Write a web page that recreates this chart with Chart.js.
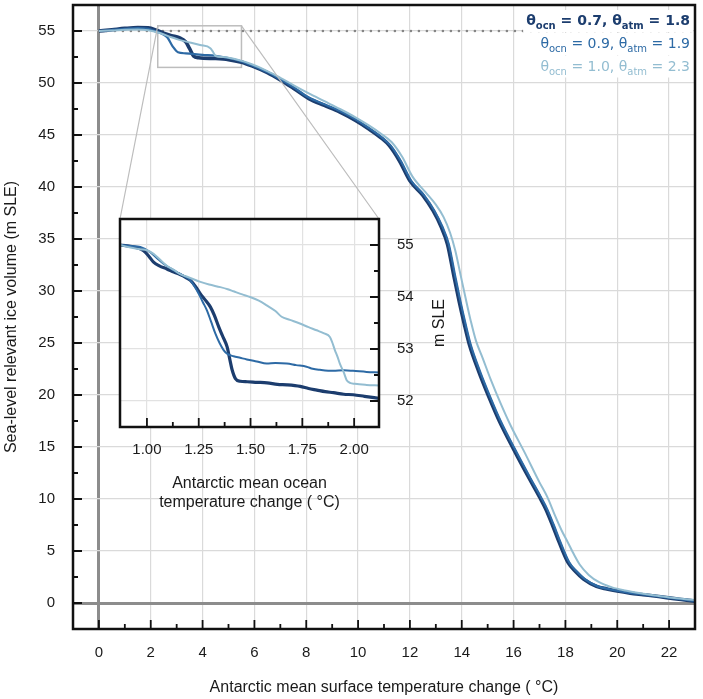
<!DOCTYPE html>
<html>
<head>
<meta charset="utf-8">
<script src="https://cdn.jsdelivr.net/npm/chart.js@4.4.1/dist/chart.umd.min.js"></script>
<style>
  body { margin: 0; background: #fff; }
  #wrap { position: relative; width: 703px; height: 699px; }
  #wrap canvas { position: absolute; left: 0; top: 0; }
</style>
</head>
<body>
<div id="wrap">
  <canvas id="mainChart" width="703" height="699"></canvas>
  <canvas id="insetChart" width="703" height="699"></canvas>
</div>
<script>
// parameter sets, one per run
const thetaOcn = ['0.7', '0.9', '1.0'];
const thetaAtm = ['1.8', '1.9', '2.3'];
const runColors = ['#1c3d6e', '#2d6aa5', '#93bdd1'];

// main panel: surface temperature change (°C) vs ice volume (m SLE)
const darkX = [0, 0.5, 1.0, 1.5, 1.9, 2.2, 2.5, 2.8, 3.1, 3.35, 3.5, 3.65, 3.85, 4.5, 5.0, 5.5, 5.9, 6.5, 7.0, 7.5, 8.1, 8.7, 9.3, 9.9, 10.4, 10.9, 11.2, 11.6, 12.0, 12.5, 12.9, 13.2, 13.45, 13.7, 13.9, 14.1, 14.3, 14.65, 15.05, 15.45, 16.0, 16.6, 17.0, 17.25, 17.5, 17.75, 18.1, 18.4, 18.7, 19.2, 19.6, 20.0, 20.5, 21.0, 21.6, 22.2, 22.6, 23.0];
const darkY = [55.0, 55.12, 55.25, 55.33, 55.3, 55.1, 54.8, 54.55, 54.35, 53.95, 53.3, 52.6, 52.43, 52.35, 52.25, 52.0, 51.65, 51.0, 50.3, 49.5, 48.5, 47.85, 47.2, 46.4, 45.6, 44.7, 44.0, 42.5, 40.6, 39.2, 37.7, 36.2, 34.5, 31.4, 29.0, 26.8, 24.8, 22.3, 19.8, 17.5, 14.8, 12.0, 10.2, 9.0, 7.5, 5.9, 3.9, 3.0, 2.3, 1.6, 1.35, 1.15, 0.95, 0.8, 0.62, 0.42, 0.3, 0.18];

const midX = [0, 0.5, 1.0, 1.5, 1.9, 2.2, 2.45, 2.65, 2.85, 3.05, 3.35, 4.0, 4.5, 5.0, 5.5, 5.9, 6.5, 7.0, 7.5, 8.1, 8.7, 9.3, 9.9, 10.4, 10.9, 11.25, 11.65, 12.05, 12.55, 12.95, 13.25, 13.5, 13.75, 13.95, 14.15, 14.35, 14.7, 15.1, 15.5, 16.05, 16.65, 17.05, 17.3, 17.55, 17.8, 18.15, 18.45, 18.75, 19.25, 19.65, 20.05, 20.5, 21.0, 21.6, 22.2, 22.6, 23.0];
const midY = [55.0, 55.1, 55.2, 55.28, 55.2, 54.95, 54.7, 54.35, 53.5, 52.95, 52.85, 52.7, 52.62, 52.4, 52.08, 51.7, 51.05, 50.35, 49.6, 48.6, 47.95, 47.3, 46.5, 45.7, 44.8, 44.0, 42.5, 40.6, 39.2, 37.7, 36.2, 34.5, 31.4, 29.0, 26.8, 24.8, 22.3, 19.8, 17.5, 14.8, 12.0, 10.2, 9.0, 7.5, 5.9, 3.9, 3.0, 2.3, 1.6, 1.35, 1.15, 0.97, 0.82, 0.64, 0.44, 0.32, 0.2];

const lightX = [0, 0.5, 1.0, 1.5, 1.9, 2.35, 2.8, 3.1, 3.5, 3.9, 4.3, 4.4, 4.5, 4.8, 5.4, 5.9, 6.5, 7.0, 7.5, 8.1, 8.7, 9.3, 9.9, 10.4, 10.9, 11.3, 11.7, 12.1, 12.6, 13.0, 13.3, 13.55, 13.75, 13.95, 14.15, 14.35, 14.55, 14.8, 15.1, 15.5, 15.9, 16.4, 17.0, 17.3, 17.6, 17.85, 18.1, 18.3, 18.55, 18.9, 19.3, 19.8, 20.3, 21.0, 21.6, 22.2, 23.0];
const lightY = [55.0, 55.05, 55.12, 55.15, 55.08, 54.8, 54.4, 54.15, 53.9, 53.65, 53.35, 53.0, 52.6, 52.5, 52.2, 51.8, 51.15, 50.5, 49.8, 49.0, 48.25, 47.5, 46.7, 45.95, 45.1, 44.3, 42.9, 41.0, 39.5, 38.3, 37.1, 35.6, 33.9, 31.6, 29.3, 27.1, 25.2, 23.6, 21.6, 19.2, 17.0, 14.6, 11.6, 10.2, 8.4, 7.0, 5.8, 4.8, 3.7, 2.7, 2.0, 1.5, 1.2, 0.9, 0.68, 0.47, 0.28];

// present-day reference volume
const refX = [0, 23];
const refY = [55, 55];

// inset: ocean temperature change (°C)
const inDarkX = [0.87, 0.95, 0.984, 1.01, 1.032, 1.06, 1.096, 1.13, 1.16, 1.19, 1.21, 1.235, 1.258, 1.28, 1.306, 1.325, 1.347, 1.365, 1.387, 1.40, 1.411, 1.427, 1.45, 1.484, 1.53, 1.58, 1.63, 1.676, 1.74, 1.78, 1.82, 1.86, 1.90, 1.95, 1.996, 2.05, 2.12];
const inDarkY = [55.0, 54.95, 54.89, 54.78, 54.67, 54.6, 54.54, 54.48, 54.43, 54.37, 54.32, 54.2, 54.06, 53.95, 53.81, 53.65, 53.42, 53.25, 53.04, 52.8, 52.6, 52.43, 52.38, 52.37, 52.36, 52.35, 52.32, 52.31, 52.28, 52.24, 52.21, 52.18, 52.16, 52.13, 52.12, 52.09, 52.05];

const inMidX = [0.87, 0.92, 0.968, 1.016, 1.05, 1.08, 1.11, 1.144, 1.18, 1.21, 1.23, 1.25, 1.27, 1.29, 1.31, 1.33, 1.35, 1.37, 1.39, 1.418, 1.45, 1.482, 1.53, 1.578, 1.62, 1.675, 1.72, 1.77, 1.80, 1.835, 1.899, 1.95, 1.995, 2.06, 2.12];
const inMidY = [55.0, 54.98, 54.96, 54.86, 54.74, 54.64, 54.56, 54.48, 54.4, 54.32, 54.2, 54.06, 53.9, 53.74, 53.52, 53.3, 53.12, 52.98, 52.9, 52.86, 52.83, 52.8, 52.76, 52.72, 52.73, 52.72, 52.69, 52.66, 52.62, 52.6, 52.58, 52.59, 52.58, 52.56, 52.55];

const inLightX = [0.87, 0.92, 0.968, 1.0, 1.032, 1.06, 1.096, 1.13, 1.16, 1.2, 1.258, 1.3, 1.354, 1.39, 1.418, 1.46, 1.498, 1.54, 1.578, 1.62, 1.65, 1.69, 1.738, 1.78, 1.819, 1.855, 1.883, 1.895, 1.907, 1.92, 1.931, 1.95, 1.964, 1.98, 2.004, 2.06, 2.12];
const inLightY = [55.0, 54.95, 54.92, 54.9, 54.83, 54.73, 54.6, 54.52, 54.44, 54.38, 54.29, 54.24, 54.19, 54.15, 54.11, 54.05, 54.0, 53.93, 53.84, 53.73, 53.62, 53.56, 53.49, 53.42, 53.36, 53.3, 53.23, 53.12, 52.98, 52.85, 52.72, 52.55, 52.4, 52.35, 52.33, 52.31, 52.3];

// ticks
const mainXTicks = [0, 2, 4, 6, 8, 10, 12, 14, 16, 18, 20, 22];
const mainXLabels = ['0', '2', '4', '6', '8', '10', '12', '14', '16', '18', '20', '22'];
const mainYTicks = [0, 5, 10, 15, 20, 25, 30, 35, 40, 45, 50, 55];
const mainYLabels = ['0', '5', '10', '15', '20', '25', '30', '35', '40', '45', '50', '55'];
const insetXTicks = [1.0, 1.25, 1.5, 1.75, 2.0];
const insetXLabels = ['1.00', '1.25', '1.50', '1.75', '2.00'];
const insetYTicks = [52, 53, 54, 55];
const insetYLabels = ['52', '53', '54', '55'];

// zoom window (surface temp, m SLE) and inset range (ocean temp)
const zoomX = [2.27, 5.5];
const zoomY = [51.5, 55.5];
const insetRangeX = [0.87, 2.12];

const sansFont = 'Liberation Sans, Arial, sans-serif';
const tickFont = { family: sansFont, size: 15 };
const titleFont = { family: sansFont, size: 16 };
const ink = '#1a1a1a';

function pts(xs, ys) {
    return xs.map(function (x, i) { return { x: x, y: ys[i] }; });
}

function run(i, xs, ys, width, order) {
    return {
        label: 'θocn = ' + thetaOcn[i] + ', θatm = ' + thetaAtm[i],
        data: pts(xs, ys),
        borderColor: runColors[i],
        borderWidth: width,
        pointRadius: 0,
        fill: false,
        cubicInterpolationMode: 'monotone',
        order: order
    };
}

function fixedTicks(vals) {
    return function (scale) {
        scale.ticks = vals.map(function (v) { return { value: v }; });
    };
}

// keep the plot box where it is, labels may hang over
function noPad(size, key) {
    return function (s) {
        s[key] = size;
        s.paddingTop = 0; s.paddingBottom = 0;
        s.paddingLeft = 0; s.paddingRight = 0;
    };
}

function gridColor(c) {
    return c.tick && c.tick.value === 0 ? '#8c8c8c' : '#dadada';
}
function gridWidth(c) {
    return c.tick && c.tick.value === 0 ? 3 : 1.2;
}

// inward tick marks + black frame
function drawFrame(chart, xMajor, xMinor, yMajor, yMinor, ySide) {
    const ctx = chart.ctx, a = chart.chartArea;
    const sx = chart.scales.x, sy = chart.scales.y;
    ctx.save();
    ctx.strokeStyle = '#111';
    ctx.lineWidth = 1.8;
    ctx.beginPath();
    [[xMajor, 9], [xMinor, 5]].forEach(function (set) {
        set[0].forEach(function (v) {
            const px = sx.getPixelForValue(v);
            ctx.moveTo(px, a.bottom);
            ctx.lineTo(px, a.bottom - set[1]);
        });
    });
    [[yMajor, 9], [yMinor, 5]].forEach(function (set) {
        set[0].forEach(function (v) {
            const py = sy.getPixelForValue(v);
            if (ySide === 'left') {
                ctx.moveTo(a.left, py);
                ctx.lineTo(a.left + set[1], py);
            } else {
                ctx.moveTo(a.right, py);
                ctx.lineTo(a.right - set[1], py);
            }
        });
    });
    ctx.stroke();
    ctx.lineWidth = 2.5;
    ctx.strokeRect(a.left, a.top, a.right - a.left, a.bottom - a.top);
    ctx.restore();
}

function drawLegend(chart) {
    const ctx = chart.ctx;
    const right = chart.chartArea.right - 5;
    const baselines = [25, 48, 70.5];
    ctx.save();
    thetaOcn.forEach(function (ocn, i) {
        const w = i === 0 ? 'bold ' : '';
        const big = w + '14px "DejaVu Sans"', small = w + '10px "DejaVu Sans"';
        const segs = [
            ['θ', big, 0], ['ocn', small, 4], [' = ' + ocn + ', ', big, 0],
            ['θ', big, 0], ['atm', small, 4], [' = ' + thetaAtm[i], big, 0]
        ];
        let total = 0;
        segs.forEach(function (s) { ctx.font = s[1]; s.push(ctx.measureText(s[0]).width); total += s[3]; });
        let x = right - total;
        const b = baselines[i];
        ctx.fillStyle = '#fff';
        ctx.fillRect(x - 3, b - 15, total + 6, 22);
        ctx.fillStyle = runColors[i];
        ctx.textBaseline = 'alphabetic';
        ctx.textAlign = 'left';
        segs.forEach(function (s) {
            ctx.font = s[1];
            ctx.fillText(s[0], x, b + s[2]);
            x += s[3];
        });
    });
    ctx.restore();
}

const mainDecor = {
    id: 'mainDecor',
    beforeDatasetsDraw(chart) {
        const ctx = chart.ctx, sx = chart.scales.x, sy = chart.scales.y;
        const l = sx.getPixelForValue(zoomX[0]), r = sx.getPixelForValue(zoomX[1]);
        const t = sy.getPixelForValue(zoomY[1]), b = sy.getPixelForValue(zoomY[0]);
        ctx.save();
        ctx.strokeStyle = '#bdbdbd';
        ctx.lineWidth = 1.5;
        ctx.strokeRect(l, t, r - l, b - t);
        ctx.restore();
    },
    afterDatasetsDraw(chart) {
        drawLegend(chart);
    },
    afterDraw(chart) {
        drawFrame(chart,
            mainXTicks, [1, 3, 5, 7, 9, 11, 13, 15, 17, 19, 21],
            mainYTicks, [2.5, 7.5, 12.5, 17.5, 22.5, 27.5, 32.5, 37.5, 42.5, 47.5, 52.5],
            'left');
    }
};

const mainChart = new Chart(document.getElementById('mainChart'), {
    type: 'line',
    data: {
        datasets: [
            {
                label: 'present day',
                data: pts(refX, refY),
                borderColor: '#858585',
                borderWidth: 2.6,
                borderDash: [0, 8],
                borderCapStyle: 'round',
                pointRadius: 0,
                order: 10
            },
            run(0, darkX, darkY, 3.6, 3),
            run(1, midX, midY, 2.2, 2),
            run(2, lightX, lightY, 2.0, 1)
        ]
    },
    options: {
        responsive: false,
        animation: false,
        events: [],
        layout: { padding: { top: 5, right: 8, left: 0, bottom: 0 } },
        plugins: { legend: { display: false }, tooltip: { enabled: false } },
        scales: {
            x: {
                type: 'linear',
                min: -1,
                max: 23,
                afterBuildTicks: fixedTicks(mainXTicks),
                afterFit: noPad(70, 'height'),
                border: { display: false },
                grid: { drawTicks: false, color: gridColor, lineWidth: gridWidth },
                ticks: { font: tickFont, color: ink, padding: 15, maxRotation: 0,
                    callback: function (v, i) { return mainXLabels[i]; } },
                title: { display: true, text: 'Antarctic mean surface temperature change ( °C)',
                    font: titleFont, color: ink, padding: { top: 0, bottom: 2 } }
            },
            y: {
                type: 'linear',
                min: -2.5,
                max: 57.5,
                afterBuildTicks: fixedTicks(mainYTicks),
                afterFit: noPad(73, 'width'),
                border: { display: false },
                grid: { drawTicks: false, color: gridColor, lineWidth: gridWidth },
                ticks: { font: tickFont, color: ink, padding: 18,
                    callback: function (v, i) { return mainYLabels[i]; } },
                title: { display: true, text: 'Sea-level relevant ice volume (m SLE)',
                    font: titleFont, color: ink, padding: { top: 2, bottom: 0 } }
            }
        }
    },
    plugins: [mainDecor]
});

const insetDecor = {
    id: 'insetDecor',
    beforeDraw(chart) {
        const ctx = chart.ctx, a = chart.chartArea;
        const mx = mainChart.scales.x, my = mainChart.scales.y;
        ctx.save();
        ctx.strokeStyle = '#bdbdbd';
        ctx.lineWidth = 1.2;
        ctx.beginPath();
        ctx.moveTo(mx.getPixelForValue(zoomX[0]), my.getPixelForValue(zoomY[1]));
        ctx.lineTo(a.left, a.top);
        ctx.moveTo(mx.getPixelForValue(zoomX[1]), my.getPixelForValue(zoomY[1]));
        ctx.lineTo(a.right, a.top);
        ctx.stroke();
        ctx.fillStyle = '#fff';
        ctx.fillRect(a.left, a.top, a.right - a.left, a.bottom - a.top);
        ctx.restore();
    },
    afterDraw(chart) {
        drawFrame(chart,
            insetXTicks, [1.125, 1.375, 1.625, 1.875],
            insetYTicks, [52.5, 53.5, 54.5],
            'right');
        const ctx = chart.ctx;
        ctx.save();
        ctx.translate(440, 323);
        ctx.rotate(-Math.PI / 2);
        ctx.font = '16px ' + sansFont;
        ctx.fillStyle = ink;
        ctx.textAlign = 'center';
        ctx.textBaseline = 'middle';
        ctx.fillText('m SLE', 0, 0);
        ctx.restore();
    }
};

const insetChart = new Chart(document.getElementById('insetChart'), {
    type: 'line',
    data: {
        datasets: [
            run(0, inDarkX, inDarkY, 3.2, 3),
            run(1, inMidX, inMidY, 2.0, 2),
            run(2, inLightX, inLightY, 2.0, 1)
        ]
    },
    options: {
        responsive: false,
        animation: false,
        events: [],
        layout: { padding: { left: 120, top: 219, right: 264, bottom: 187 } },
        plugins: { legend: { display: false }, tooltip: { enabled: false } },
        scales: {
            x: {
                type: 'linear',
                min: insetRangeX[0],
                max: insetRangeX[1],
                afterBuildTicks: fixedTicks(insetXTicks),
                afterFit: noPad(85, 'height'),
                border: { display: false },
                grid: { drawTicks: false, color: '#e2e2e2', lineWidth: 1.2 },
                ticks: { font: tickFont, color: ink, padding: 14, maxRotation: 0,
                    callback: function (v, i) { return insetXLabels[i]; } },
                title: { display: true, text: ['Antarctic mean ocean', 'temperature change ( °C)'],
                    font: titleFont, color: ink, padding: { top: 0, bottom: 0 } }
            },
            y: {
                type: 'linear',
                position: 'right',
                min: zoomY[0],
                max: zoomY[1],
                afterBuildTicks: fixedTicks(insetYTicks),
                afterFit: noPad(60, 'width'),
                border: { display: false },
                grid: { drawTicks: false, color: '#e2e2e2', lineWidth: 1.2 },
                ticks: { font: tickFont, color: ink, padding: 18,
                    callback: function (v, i) { return insetYLabels[i]; } }
            }
        }
    },
    plugins: [insetDecor]
});
</script>
</body>
</html>
